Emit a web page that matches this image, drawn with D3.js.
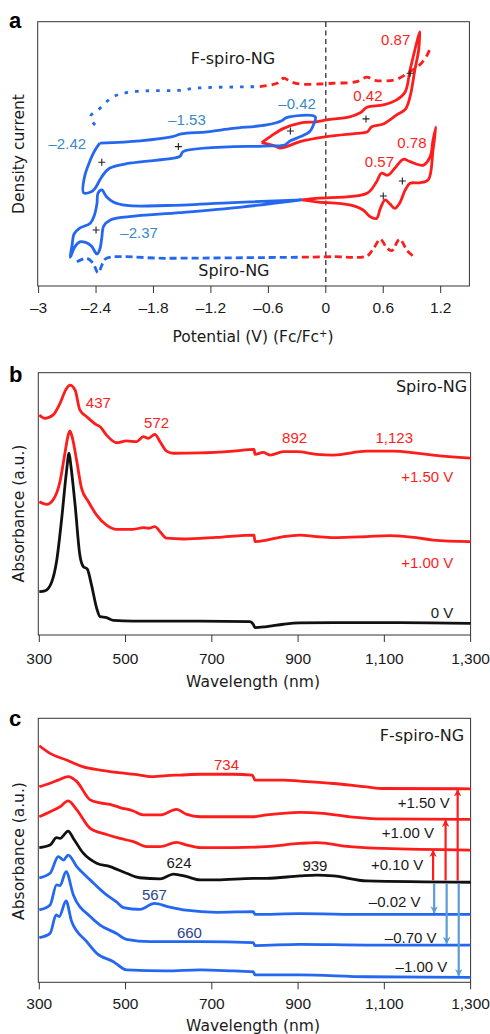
<!DOCTYPE html>
<html>
<head>
<meta charset="utf-8">
<script src="https://cdn.jsdelivr.net/npm/d3@7"></script>
<style>
  body { margin: 0; background: #fff; }
  text { font-family: "Liberation Sans", Arial, sans-serif; }
  text.word { font-family: "DejaVu Sans", sans-serif; }
</style>
</head>
<body>
<svg id="fig" width="490" height="1034"></svg>
<script>
// ---------- panel a : cyclic voltammetry (V vs Fc/Fc+, current a.u.) ----------
var cvTicks = [-3, -2.4, -1.8, -1.2, -0.6, 0, 0.6, 1.2];

var cvFspiroBlue = [[-2.36,54.1],[-1.94,55.0],[-1.60,56.6],[-1.51,57.6],[-1.24,58.4],[-0.97,59.7],[-0.62,61.0],
  [-0.46,62.6],[-0.41,63.8],[-0.11,64.1],[-0.13,61.0],[-0.17,58.4],[-0.27,56.5],[-0.37,55.0],[-0.43,53.4],
  [-0.48,53.1],[-0.65,53.0],[-1.49,50.9],[-1.52,49.2],[-1.59,48.4],[-2.05,46.5],[-2.26,44.6],[-2.34,41.4],
  [-2.41,37.0],[-2.45,35.7],[-2.53,35.3],[-2.52,41.4],[-2.46,47.7],[-2.41,51.5],[-2.36,54.1]];

var cvFspiroRed = [[-0.67,54.3],[-0.58,56.6],[-0.44,59.7],[-0.27,61.7],[-0.10,62.2],[0.01,62.9],[0.25,64.1],
  [0.36,65.6],[0.43,67.7],[0.60,68.6],[0.74,70.5],[0.83,73.6],[0.88,81.8],[0.93,89.4],[0.98,96.3],
  [0.98,95.0],[0.97,89.4],[0.93,81.8],[0.88,71.7],[0.83,66.9],[0.74,64.8],[0.60,61.4],[0.48,60.3],
  [0.43,58.3],[0.32,57.8],[0.01,56.6],[-0.27,54.7],[-0.41,52.8],[-0.48,52.2],[-0.53,53.0],[-0.67,54.3]];

var dpvFspiroBlue = [[-2.41,61.0],[-2.46,64.1],[-2.36,67.3],[-2.22,71.7],[-2.01,73.6],[-1.49,74.2],[-1.38,74.9],[-0.69,75.5]];
var dpvFspiroRed = [[-0.69,75.5],[-0.51,76.8],[-0.44,78.7],[-0.37,77.4],[-0.27,76.5],[0.08,76.8],[0.32,77.4],
  [0.43,79.1],[0.50,78.0],[0.60,77.7],[0.74,78.3],[0.88,81.2],[0.98,83.7],[1.05,86.9],[1.09,90.0]];

var cvSpiroBlue = [[-0.25,32.6],[-0.97,31.6],[-1.66,30.5],[-2.08,30.5],[-2.22,31.8],[-2.29,33.8],[-2.34,36.4],
  [-2.38,35.1],[-2.39,31.3],[-2.42,26.5],[-2.46,23.8],[-2.57,21.9],[-2.63,19.7],[-2.65,15.5],[-2.67,10.9],
  [-2.62,14.9],[-2.57,16.7],[-2.51,16.5],[-2.45,15.2],[-2.39,12.1],[-2.36,14.0],[-2.34,18.2],[-2.32,22.7],
  [-2.25,25.0],[-2.05,26.3],[-1.52,27.8],[-0.88,29.9],[-0.25,32.6]];

var cvSpiroRed = [[-0.25,32.6],[-0.10,33.2],[0.43,35.1],[0.53,39.5],[0.58,42.7],[0.65,42.0],[0.72,44.6],
  [0.81,48.0],[0.88,47.1],[1.02,45.8],[1.09,49.0],[1.12,55.3],[1.15,60.3],[1.12,51.5],[1.07,40.2],[0.98,39.1],
  [0.88,38.9],[0.83,36.4],[0.77,31.3],[0.72,29.4],[0.67,31.1],[0.62,32.6],[0.57,29.4],[0.53,25.6],[0.46,26.3],
  [0.39,28.8],[0.25,30.7],[-0.10,31.9],[-0.25,32.6]];

var dpvSpiroBlue = [[-2.60,9.2],[-2.50,10.5],[-2.43,8.6],[-2.38,5.0],[-2.33,8.6],[-2.29,10.5],[-1.66,10.5],[-0.25,10.9]];
var dpvSpiroRed = [[-0.25,10.9],[0.08,11.1],[0.43,11.4],[0.50,14.3],[0.57,17.7],[0.64,14.3],[0.69,13.4],
  [0.77,17.7],[0.85,13.4],[0.91,11.4]];

var halfWave = [[-2.34,46.9],[-1.54,52.8],[-0.37,58.7],[0.42,63.3],[0.88,80.6],[0.60,34.1],[0.80,39.8],[-2.40,21.2]];

var cvLabels = [
  {t: "\u20132.42", v: -2.70, i: 51.9, c: "blue"},
  {t: "\u20131.53", v: -1.45, i: 61.0, c: "blue"},
  {t: "\u20130.42", v: -0.30, i: 66.9, c: "blue"},
  {t: "0.42", v: 0.44, i: 70.1, c: "red"},
  {t: "0.87", v: 0.73, i: 91.3, c: "red"},
  {t: "0.78", v: 0.90, i: 52.4, c: "red"},
  {t: "0.57", v: 0.56, i: 45.2, c: "red"},
  {t: "\u20132.37", v: -1.95, i: 18.1, c: "blue"},
  {t: "F-spiro-NG", v: -0.97, i: 84.0, c: "black", w: 1},
  {t: "Spiro-NG", v: -0.96, i: 3.9, c: "black", w: 1}
];

// ---------- panel b : Spiro-NG spectra (offset absorbance) ----------
var wlTicks = [300, 500, 700, 900, 1100, 1300];

var bPlus150 = [[300,83.9],[313,82.6],[332,83.9],[348,88.3],[363,94.0],[371,95.3],[383,93.4],[394,85.8],[410,83.2],
  [433,80.1],[441,79.4],[456,76.2],[479,73.3],[502,74.0],[526,73.7],[541,75.6],[553,75.0],[568,76.5],[580,73.7],
  [595,70.1],[611,69.3],[672,69.4],[750,70.1],[798,70.8],[800,68.9],[819,69.6],[835,68.6],[866,69.9],[897,69.9],
  [943,68.9],[982,68.6],[1059,70.1],[1121,70.1],[1175,69.3],[1213,68.6],[1300,67.4]];

var bPlus100 = [[300,50.8],[317,49.8],[332,51.5],[348,58.5],[360,69.9],[367,76.2],[371,77.8],[377,75.0],[387,66.1],
  [398,55.9],[414,50.8],[433,45.7],[456,41.9],[479,40.3],[518,40.3],[541,40.9],[553,40.7],[568,41.3],[580,39.4],
  [595,36.9],[634,36.6],[711,37.2],[798,38.1],[800,35.6],[827,36.2],[866,37.5],[904,38.1],[943,37.5],[982,37.1],
  [1059,37.5],[1113,37.9],[1175,37.1],[1213,36.2],[1300,35.6]];

var bZero = [[300,16.5],[313,16.8],[329,20.3],[340,28.0],[352,44.5],[363,62.3],[369,69.3],[373,64.8],[383,49.6],
  [394,30.5],[402,26.1],[411,25.2],[421,19.1],[433,10.2],[441,7.0],[456,6.6],[472,5.6],[518,5.3],[672,5.3],
  [788,5.1],[796,4.1],[800,2.8],[827,3.2],[866,4.1],[904,4.6],[982,4.7],[1136,4.7],[1300,4.4]];

var bLabels = [
  {t: "437", x: 437, y: 86.6, c: "red", a: "middle"},
  {t: "572", x: 572, y: 78.9, c: "red", a: "middle"},
  {t: "892", x: 892, y: 73.1, c: "red", a: "middle"},
  {t: "1,123", x: 1123, y: 73.1, c: "red", a: "middle"},
  {t: "Spiro-NG", x: 1292, y: 92.7, c: "black", a: "end", w: 1},
  {t: "+1.50 V", x: 1260, y: 58.5, c: "red", a: "end"},
  {t: "+1.00 V", x: 1260, y: 25.7, c: "red", a: "end"},
  {t: "0 V", x: 1260, y: 6.6, c: "black", a: "end"}
];

// ---------- panel c : F-spiro-NG spectra ----------
var cPlus150 = [[300,89.6],[325,86.7],[363,84.2],[402,81.6],[441,80.4],[479,79.5],[533,78.5],[557,77.9],[595,78.3],
  [626,78.5],[673,78.8],[750,78.8],[794,78.5],[800,76.6],[866,76.6],[904,76.2],[982,75.3],[1059,74.0],[1098,73.4],[1300,73.3]];
var cPlus100 = [[300,74.1],[325,75.4],[344,76.6],[367,77.9],[387,76.0],[418,69.1],[441,68.0],[464,67.4],[487,66.2],
  [518,64.9],[541,63.4],[580,63.4],[618,65.5],[642,63.6],[673,62.7],[750,62.7],[796,62.7],[827,63.4],[904,64.4],
  [958,64.0],[1020,62.7],[1098,61.9],[1300,61.7]];
var cPlus010 = [[300,62.7],[325,64.6],[348,66.5],[367,68.7],[387,65.3],[418,58.3],[456,56.0],[487,54.5],[518,53.3],
  [549,51.4],[580,51.4],[618,53.0],[642,52.0],[673,51.0],[750,51.0],[827,51.4],[904,52.6],[943,52.9],[1020,51.4],
  [1098,50.7],[1300,50.1]];
var cZero = [[300,51.0],[325,52.0],[340,54.8],[348,54.5],[367,57.3],[379,54.5],[402,48.9],[433,45.1],[464,43.8],
  [502,41.3],[533,39.6],[580,39.2],[611,41.0],[642,40.0],[673,38.8],[711,38.8],[796,39.4],[827,39.4],[904,40.3],
  [943,40.6],[982,40.3],[1059,38.4],[1300,37.9]];
var cMinus002 = [[300,39.6],[325,41.3],[344,47.6],[356,46.3],[367,48.2],[387,43.8],[418,38.8],[456,33.1],[479,30.5],
  [495,28.3],[533,27.6],[567,29.9],[600,28.6],[640,27.3],[711,26.5],[796,26.8],[800,25.7],[904,26.0],[1059,25.7],[1300,25.7]];
var cMinus070 = [[300,27.4],[325,29.3],[340,36.9],[348,36.6],[362,41.9],[379,33.1],[418,24.9],[441,21.7],[479,18.5],
  [502,16.3],[557,15.4],[673,15.4],[796,15.0],[800,13.9],[904,14.4],[1059,14.1],[1300,14.1]];
var cMinus100 = [[300,16.9],[325,18.5],[339,25.5],[346,24.9],[362,30.8],[375,23.0],[410,15.4],[433,11.0],[472,7.8],
  [502,4.7],[595,4.3],[673,4.7],[750,4.3],[796,4.0],[800,2.8],[904,2.8],[1059,2.1],[1300,1.9]];

var arrowWl = [1213, 1242, 1270];

var cLabels = [
  {t: "734", x: 734, y: 80.5, c: "red", a: "middle"},
  {t: "F-spiro-NG", x: 1285, y: 91.5, c: "black", a: "end", w: 1},
  {t: "+1.50 V", x: 1252, y: 65.9, c: "black", a: "end"},
  {t: "+1.00 V", x: 1215, y: 54.8, c: "black", a: "end"},
  {t: "+0.10 V", x: 1190, y: 42.4, c: "black", a: "end"},
  {t: "624", x: 624, y: 43.2, c: "black", a: "middle"},
  {t: "939", x: 939, y: 42.1, c: "black", a: "middle"},
  {t: "567", x: 567, y: 31.0, c: "navy", a: "middle"},
  {t: "\u20130.02 V", x: 1184, y: 28.5, c: "black", a: "end"},
  {t: "660", x: 648, y: 16.9, c: "navy", a: "middle"},
  {t: "\u20130.70 V", x: 1221, y: 15.0, c: "black", a: "end"},
  {t: "\u20131.00 V", x: 1246, y: 3.8, c: "black", a: "end"}
];

// ---------- drawing ----------
var colors = {red: "#ff1c1c", blue: "#2467f0", lblue: "#3b88c9", navy: "#2c4190", black: "#111", arrow: "#5c9cd6"};
var labelColor = {red: colors.red, blue: colors.lblue, navy: colors.navy, black: "#1a1a1a"};

var svg = d3.select("#fig").style("background-color", "white");

var defs = svg.append("defs");
[["head-red", colors.red], ["head-blue", colors.arrow]].forEach(function(m) {
  defs.append("marker")
    .attr("id", m[0])
    .attr("viewBox", "0 -5 10 10")
    .attr("refX", 9).attr("refY", 0)
    .attr("markerWidth", 3.4).attr("markerHeight", 3.4)
    .attr("markerUnits", "strokeWidth")
    .attr("orient", "auto")
    .append("path")
    .attr("d", "M0,-5L10,0L0,5L3,0Z")
    .style("fill", m[1]);
});

function frame(x0, x1, y0, y1, letter, letterY) {
  svg.append("rect")
    .attr("x", x0).attr("y", y0)
    .attr("width", x1 - x0).attr("height", y1 - y0)
    .style("fill", "none").style("stroke", "#333").style("stroke-width", 1);
  svg.append("text")
    .attr("x", 9).attr("y", letterY)
    .attr("font-size", 22).attr("font-weight", "bold")
    .text(letter);
}

function bottomAxis(x, yPos, ticks, fmt, labelY) {
  var ax = svg.append("g");
  ax.selectAll("line").data(ticks).enter().append("line")
    .attr("x1", function(d) { return x(d); }).attr("x2", function(d) { return x(d); })
    .attr("y1", yPos).attr("y2", yPos + 7)
    .style("stroke", "#333").style("stroke-width", 1);
  ax.selectAll("text").data(ticks).enter().append("text")
    .attr("x", function(d) { return x(d); })
    .attr("y", labelY)
    .attr("text-anchor", "middle")
    .attr("font-size", 15.5)
    .style("fill", "#1a1a1a")
    .text(fmt);
}

function yTitle(txt, xPos, yMid) {
  svg.append("text")
    .attr("class", "word")
    .attr("transform", "translate(" + xPos + "," + yMid + ") rotate(-90)")
    .attr("text-anchor", "middle")
    .attr("font-size", 15.5)
    .style("fill", "#1a1a1a")
    .text(txt);
}

function trace(x, y, data, color, dash, curve) {
  var line = d3.line()
    .x(function(d) { return x(d[0]); })
    .y(function(d) { return y(d[1]); })
    .curve(curve || d3.curveCatmullRom.alpha(0.5));
  svg.append("path")
    .datum(data)
    .attr("d", line)
    .style("fill", "none")
    .style("stroke", color)
    .style("stroke-width", 2.8)
    .style("stroke-linejoin", "round")
    .style("stroke-dasharray", dash || null);
}

function addLabels(sel, data, xf, yf) {
  sel.selectAll("text").data(data).enter().append("text")
    .attr("class", function(d) { return d.w ? "word" : null; })
    .attr("x", xf)
    .attr("y", yf)
    .attr("text-anchor", function(d) { return d.a || "middle"; })
    .attr("font-size", function(d) { return d.w ? 16 : 15; })
    .style("fill", function(d) { return labelColor[d.c]; })
    .text(function(d) { return d.t; });
}

var minus = function(d) { return d < 0 ? "\u2013" + Math.abs(d) : String(d); };

// ----- panel a
var xa = d3.scaleLinear().domain([-3, 1.5]).range([38.6, 469.4]);
var ya = d3.scaleLinear().domain([0, 100]).range([286, 22]);
frame(37.7, 469.4, 21.7, 286, "a", 27.5);

svg.append("line")
  .attr("x1", xa(0)).attr("x2", xa(0))
  .attr("y1", ya(100)).attr("y2", ya(0))
  .style("stroke", "#333").style("stroke-width", 1.3)
  .style("stroke-dasharray", "5,3.5");

trace(xa, ya, dpvFspiroBlue, colors.blue, "3.5,7");
trace(xa, ya, dpvFspiroRed, colors.red, "7,5");
trace(xa, ya, dpvSpiroBlue, colors.blue, "7,4");
trace(xa, ya, dpvSpiroRed, colors.red, "7,4");
trace(xa, ya, cvFspiroRed, colors.red);
trace(xa, ya, cvFspiroBlue, colors.blue);
trace(xa, ya, cvSpiroRed, colors.red);
trace(xa, ya, cvSpiroBlue, colors.blue);

svg.append("g").selectAll("path").data(halfWave).enter().append("path")
  .attr("transform", function(d) { return "translate(" + xa(d[0]) + "," + ya(d[1]) + ")"; })
  .attr("d", "M-3.5,0H3.5M0,-3.5V3.5")
  .style("stroke", "#222").style("stroke-width", 1.1);

addLabels(svg.append("g"), cvLabels,
  function(d) { return xa(d.v); }, function(d) { return ya(d.i); });

bottomAxis(xa, 286, cvTicks, minus, 313);
var pt = svg.append("text")
  .attr("class", "word")
  .attr("x", 253).attr("y", 341.5)
  .attr("text-anchor", "middle")
  .attr("font-size", 15.5)
  .style("fill", "#1a1a1a")
  .text("Potential (V) (Fc/Fc");
pt.append("tspan").attr("baseline-shift", "super").attr("font-size", 10).text("+");
pt.append("tspan").text(")");
yTitle("Density current", 24, 154);

// ----- spectra panels
var wlFmt = d3.format(",");

function spectraPanel(top, bottom, letter, letterY, series, labels, tickY, titleY, yMid) {
  var x = d3.scaleLinear().domain([300, 1300]).range([39.3, 470.6]);
  var y = d3.scaleLinear().domain([0, 100]).range([bottom, top]);
  frame(38.3, 470.6, top, bottom, letter, letterY);
  series.forEach(function(s) { trace(x, y, s.data, s.color, null, d3.curveMonotoneX); });
  addLabels(svg.append("g"), labels,
    function(d) { return x(d.x); }, function(d) { return y(d.y); });
  bottomAxis(x, bottom, wlTicks, wlFmt, tickY);
  svg.append("text")
    .attr("class", "word")
    .attr("x", 253).attr("y", titleY)
    .attr("text-anchor", "middle")
    .attr("font-size", 15.5)
    .style("fill", "#1a1a1a")
    .text("Wavelength (nm)");
  yTitle("Absorbance (a.u.)", 24, yMid);
  return {x: x, y: y};
}

spectraPanel(372.7, 635, "b", 382.3, [
  {data: bZero, color: colors.black},
  {data: bPlus100, color: colors.red},
  {data: bPlus150, color: colors.red}
], bLabels, 663.5, 687, 513.5);

var sc = spectraPanel(718.3, 982.3, "c", 725.7, [
  {data: cMinus100, color: colors.blue},
  {data: cMinus070, color: colors.blue},
  {data: cMinus002, color: colors.blue},
  {data: cZero, color: colors.black},
  {data: cPlus010, color: colors.red},
  {data: cPlus100, color: colors.red},
  {data: cPlus150, color: colors.red}
], cLabels, 1008.5, 1031, 851);

// arrows from the 0 V trace to each biased trace
function valueAt(data, wl) {
  var i = d3.bisector(function(d) { return d[0]; }).left(data, wl);
  if (i <= 0) return data[0][1];
  if (i >= data.length) return data[data.length - 1][1];
  var a = data[i - 1], b = data[i];
  return a[1] + (b[1] - a[1]) * (wl - a[0]) / (b[0] - a[0]);
}
var upTargets = [cPlus010, cPlus100, cPlus150];
var downTargets = [cMinus002, cMinus070, cMinus100];
arrowWl.forEach(function(wl, k) {
  svg.append("line")
    .attr("x1", sc.x(wl)).attr("x2", sc.x(wl))
    .attr("y1", sc.y(valueAt(cZero, wl)) - 1.5)
    .attr("y2", sc.y(valueAt(upTargets[k], wl)) + 1)
    .style("stroke", colors.red).style("stroke-width", 2.2)
    .attr("marker-end", "url(#head-red)");
  svg.append("line")
    .attr("x1", sc.x(wl + 2.5)).attr("x2", sc.x(wl + 2.5))
    .attr("y1", sc.y(valueAt(cZero, wl)) + 1.5)
    .attr("y2", sc.y(valueAt(downTargets[k], wl)) - 1.5)
    .style("stroke", colors.arrow).style("stroke-width", 2.2)
    .attr("marker-end", "url(#head-blue)");
});
</script>
</body>
</html>
